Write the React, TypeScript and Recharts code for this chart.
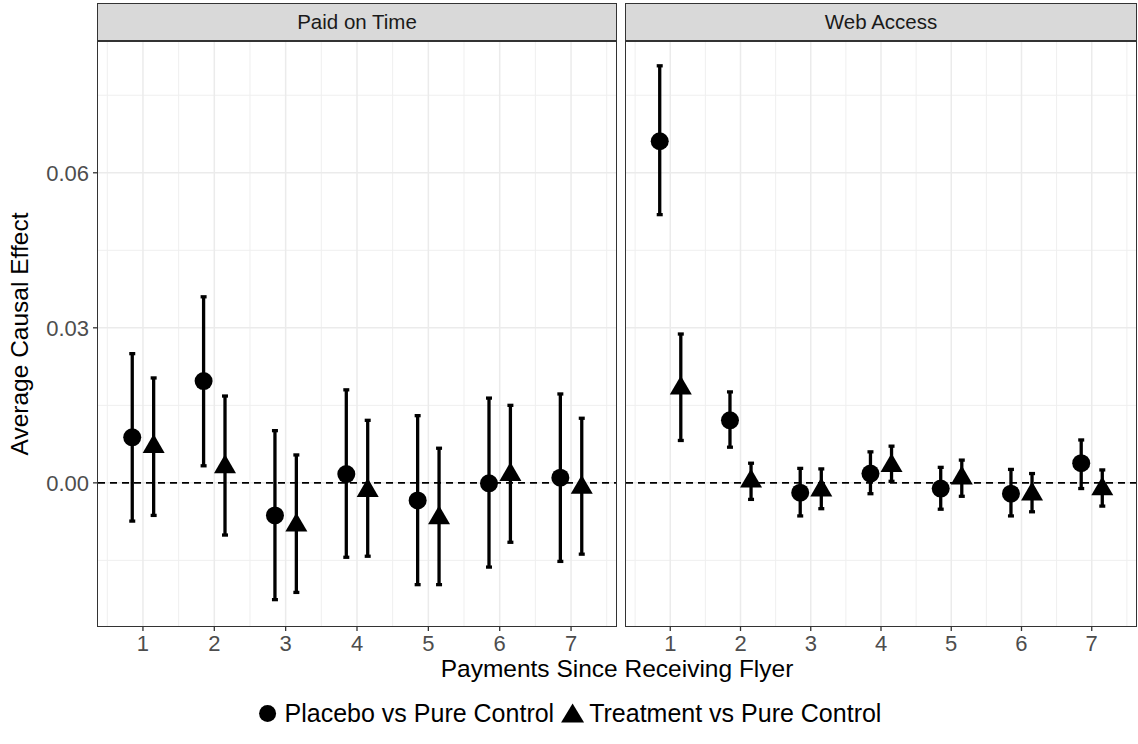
import React from 'react';
import { ScatterChart, Scatter, XAxis, YAxis, ErrorBar, ReferenceLine } from 'recharts';

const payments = [1, 2, 3, 4, 5, 6, 7];

// Paid on Time
const paidPlaceboEst = [0.0088, 0.0197, -0.0063, 0.0017, -0.0034, -0.0001, 0.001];
const paidPlaceboLow = [-0.0074, 0.0033, -0.0226, -0.0144, -0.0197, -0.0163, -0.0152];
const paidPlaceboHigh = [0.025, 0.036, 0.0101, 0.018, 0.013, 0.0164, 0.0172];
const paidTreatEst = [0.007, 0.0031, -0.0082, -0.0015, -0.0068, 0.0016, -0.0009];
const paidTreatLow = [-0.0063, -0.0101, -0.0212, -0.0142, -0.0197, -0.0115, -0.0138];
const paidTreatHigh = [0.0203, 0.0168, 0.0054, 0.0121, 0.0067, 0.015, 0.0125];

// Web Access
const webPlaceboEst = [0.0661, 0.0121, -0.0019, 0.0018, -0.0011, -0.0021, 0.0038];
const webPlaceboLow = [0.0519, 0.0069, -0.0064, -0.0021, -0.0051, -0.0064, -0.0011];
const webPlaceboHigh = [0.0807, 0.0176, 0.0028, 0.006, 0.003, 0.0026, 0.0083];
const webTreatEst = [0.0183, 0.0003, -0.0014, 0.0033, 0.0009, -0.0022, -0.0012];
const webTreatLow = [0.0082, -0.0032, -0.005, 0.0003, -0.0026, -0.0056, -0.0045];
const webTreatHigh = [0.0288, 0.0038, 0.0027, 0.0071, 0.0044, 0.0018, 0.0025];

const facets = ['Paid on Time', 'Web Access'];
const groups = ['Placebo vs Pure Control', 'Treatment vs Pure Control'];
const yTicks = [0, 0.03, 0.06];
const yMinor = [-0.015, 0.015, 0.045, 0.075];
const xMinor = [0.5, 1.5, 2.5, 3.5, 4.5, 5.5, 6.5, 7.5];

const X_DOMAIN: [number, number] = [0.37, 7.63];
const Y_DOMAIN: [number, number] = [-0.0277, 0.0855];
const DODGE = 0.15;
const FONT = '"Liberation Sans", Arial, Helvetica, sans-serif';

const rows = (est: number[], low: number[], high: number[], shift: number) =>
  payments.map((p, i) => ({
    x: p + shift,
    y: est[i],
    err: [est[i] - low[i], high[i] - est[i]],
  }));

const CircleMark = (props: any) => {
  const { cx, cy } = props;
  if (cx == null || cy == null) return null;
  return <circle cx={cx} cy={cy} r={9} fill="#000" />;
};

const TriangleMark = (props: any) => {
  const { cx, cy } = props;
  if (cx == null || cy == null) return null;
  const pts = `${cx},${cy - 12.6} ${cx - 11},${cy + 6.3} ${cx + 11},${cy + 6.3}`;
  return <polygon points={pts} fill="#000" />;
};

const tickStyle = { fill: '#4d4d4d', fontSize: 22, fontFamily: FONT };

function Panel({ left, width, rightMargin, showY, placebo, treat }: any) {
  return (
    <div style={{ position: 'absolute', left, top: 0 }}>
      <ScatterChart
        width={width}
        height={660}
        margin={{ top: 41, right: rightMargin, bottom: 0, left: 0 }}
      >
        <XAxis
          type="number"
          dataKey="x"
          domain={X_DOMAIN}
          ticks={payments}
          allowDataOverflow
          height={34}
          axisLine={false}
          tickLine={{ stroke: '#333', strokeWidth: 1.3 }}
          tickSize={5}
          tickMargin={4}
          tick={tickStyle}
          interval={0}
        />
        <YAxis
          type="number"
          dataKey="y"
          domain={Y_DOMAIN}
          ticks={yTicks}
          allowDataOverflow
          hide={!showY}
          width={98}
          axisLine={false}
          tickLine={{ stroke: '#333', strokeWidth: 1.3 }}
          tickSize={5}
          tickMargin={4}
          tick={tickStyle}
          tickFormatter={(v: number) => v.toFixed(2)}
          interval={0}
        />
        {xMinor.map((v) => (
          <ReferenceLine key={'xm' + v} x={v} stroke="#efefef" strokeWidth={1} />
        ))}
        {yMinor.map((v) => (
          <ReferenceLine key={'ym' + v} y={v} stroke="#efefef" strokeWidth={1} />
        ))}
        {payments.map((v) => (
          <ReferenceLine key={'xM' + v} x={v} stroke="#ebebeb" strokeWidth={1.5} />
        ))}
        {yTicks.map((v) => (
          <ReferenceLine key={'yM' + v} y={v} stroke="#ebebeb" strokeWidth={1.5} />
        ))}
        <ReferenceLine y={0} stroke="#000" strokeWidth={1.6} strokeDasharray="7 5" />
        <Scatter
          name={groups[0]}
          data={placebo}
          shape={CircleMark}
          isAnimationActive={false}
        >
          <ErrorBar dataKey="err" direction="y" width={3} strokeWidth={3.3} stroke="#000" />
        </Scatter>
        <Scatter
          name={groups[1]}
          data={treat}
          shape={TriangleMark}
          isAnimationActive={false}
        >
          <ErrorBar dataKey="err" direction="y" width={3} strokeWidth={3.3} stroke="#000" />
        </Scatter>
      </ScatterChart>
    </div>
  );
}

function Frame({ left, width, title }: any) {
  return (
    <>
      <div
        style={{
          position: 'absolute',
          left: left - 0.75,
          top: 3.25,
          width: width + 1.5,
          height: 38.5,
          boxSizing: 'border-box',
          border: '1.5px solid #333',
          background: '#d9d9d9',
          color: '#1a1a1a',
          fontSize: 20.5,
          lineHeight: '35px',
          textAlign: 'center',
        }}
      >
        {title}
      </div>
      <div
        style={{
          position: 'absolute',
          left: left - 0.75,
          top: 40.25,
          width: width + 1.5,
          height: 586.5,
          boxSizing: 'border-box',
          border: '1.5px solid #333',
          pointerEvents: 'none',
        }}
      />
    </>
  );
}

export default function App() {
  const paidPlacebo = rows(paidPlaceboEst, paidPlaceboLow, paidPlaceboHigh, -DODGE);
  const paidTreat = rows(paidTreatEst, paidTreatLow, paidTreatHigh, DODGE);
  const webPlacebo = rows(webPlaceboEst, webPlaceboLow, webPlaceboHigh, -DODGE);
  const webTreat = rows(webTreatEst, webTreatLow, webTreatHigh, DODGE);

  return (
    <div
      style={{
        position: 'absolute',
        left: 0,
        top: 0,
        width: 1138,
        height: 744,
        background: '#fff',
        fontFamily: FONT,
        overflow: 'hidden',
      }}
    >
      <Panel left={0} width={620} rightMargin={4} showY placebo={paidPlacebo} treat={paidTreat} />
      <Panel left={626} width={512} rightMargin={2} showY={false} placebo={webPlacebo} treat={webTreat} />
      <Frame left={98} width={518} title={facets[0]} />
      <Frame left={626} width={510} title={facets[1]} />

      {/* y axis title */}
      <div
        style={{
          position: 'absolute',
          left: 20,
          top: 333.5,
          transform: 'translate(-50%, -50%) rotate(-90deg)',
          fontSize: 24.5,
          whiteSpace: 'nowrap',
          color: '#000',
        }}
      >
        Average Causal Effect
      </div>

      {/* x axis title */}
      <div
        style={{
          position: 'absolute',
          left: 617,
          top: 669,
          transform: 'translate(-50%, -50%)',
          fontSize: 24.5,
          whiteSpace: 'nowrap',
          color: '#000',
        }}
      >
        Payments Since Receiving Flyer
      </div>

      {/* legend */}
      <div
        style={{
          position: 'absolute',
          left: 569,
          top: 713,
          transform: 'translate(-50%, -50%)',
          display: 'flex',
          alignItems: 'center',
          fontSize: 25,
          whiteSpace: 'nowrap',
          color: '#000',
        }}
      >
        <svg width={22} height={22} style={{ marginRight: 6 }}>
          <circle cx={11} cy={11} r={8.5} fill="#000" />
        </svg>
        <span style={{ marginRight: 6 }}>{groups[0]}</span>
        <svg width={24} height={22} style={{ marginRight: 5 }}>
          <polygon points="12,1 0.5,20 23.5,20" fill="#000" />
        </svg>
        <span>{groups[1]}</span>
      </div>
    </div>
  );
}
